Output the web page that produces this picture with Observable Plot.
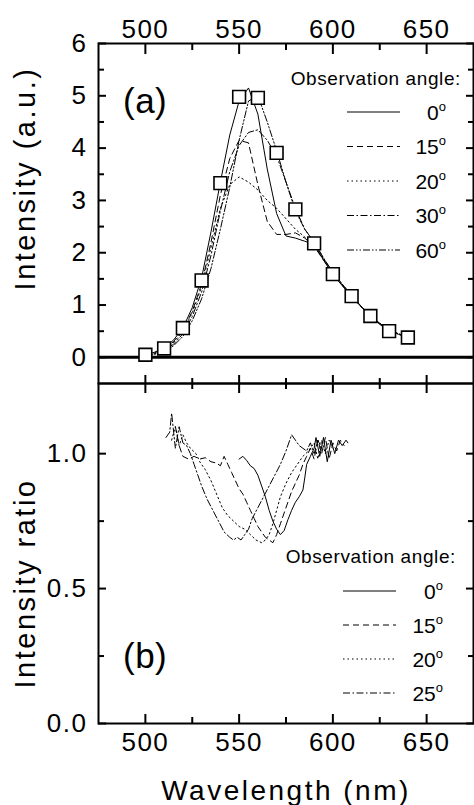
<!DOCTYPE html>
<html>
<head>
<meta charset="utf-8">
<script src="https://cdn.jsdelivr.net/npm/d3@7"></script>
<script src="https://cdn.jsdelivr.net/npm/@observablehq/plot@0.6"></script>
<style>
  html, body { margin: 0; padding: 0; background: #fff; }
  #wrap { position: relative; width: 474px; height: 805px; background: #fff; overflow: hidden;
          font-family: "Liberation Sans", Arial, Helvetica, sans-serif; }
  #wrap > svg { position: absolute; left: 0; }
</style>
</head>
<body>
<div id="wrap"></div>
<script>
// ---------------- DATA ----------------
// Panel (a): emission spectra at several observation angles
const wlTop = [500,505,510,515,520,525,530,535,540,545,550,555,560,565,570,575,580,585,590,595,600,605,610,615,620,625,630,635,640];
const int0  = [0.04,0.10,0.18,0.33,0.56,0.95,1.52,2.40,3.35,4.25,4.90,5.15,4.65,3.60,2.75,2.32,2.28,2.22,2.16,1.86,1.58,1.37,1.16,0.97,0.79,0.63,0.51,0.44,0.38];
const int15 = [0.04,0.09,0.16,0.30,0.52,0.88,1.40,2.20,3.10,3.80,4.15,4.10,3.30,2.60,2.35,2.35,2.38,2.28,2.12,1.86,1.60,1.38,1.17,0.97,0.80,0.64,0.52,0.44,0.38];
const int20 = [0.03,0.08,0.15,0.28,0.50,0.85,1.35,2.10,2.85,3.30,3.45,3.35,3.20,3.00,2.85,2.65,2.45,2.30,2.15,1.88,1.60,1.38,1.17,0.97,0.80,0.65,0.52,0.45,0.39];
const int30 = [0.03,0.07,0.13,0.25,0.45,0.78,1.25,1.95,2.80,3.55,4.05,4.30,4.35,4.15,3.85,3.35,2.85,2.45,2.20,1.90,1.62,1.40,1.18,0.98,0.80,0.65,0.52,0.45,0.39];
const int60 = [0.02,0.06,0.11,0.22,0.40,0.70,1.12,1.70,2.45,3.25,4.15,4.90,5.00,4.50,3.95,3.35,2.80,2.45,2.20,1.90,1.62,1.40,1.18,0.98,0.80,0.65,0.52,0.45,0.39];
const topAngles = ["0", "15", "20", "30", "60"];

// Square markers in panel (a)
const sqWl  = [500,510,520,530,540,550,560,570,580,590,600,610,620,630,640];
const sqVal = [0.05,0.17,0.56,1.47,3.33,4.98,4.96,3.91,2.83,2.18,1.59,1.17,0.79,0.50,0.38];

// Panel (b): intensity ratio
const wlR0 = [550,552,554,556,558,560,562,564,566,568,570,572,574,576,578,580,582,584,585,586,588,590,591,593,595,597,599,601,603,605,607,608];
const ratio0 = [0.98,0.99,0.975,0.955,0.945,0.92,0.88,0.84,0.79,0.75,0.72,0.70,0.715,0.755,0.79,0.82,0.84,0.865,0.91,0.96,0.99,1.02,1.06,0.99,1.06,0.97,1.05,1.0,1.05,1.03,1.05,1.04];
const wlR15 = [516,518,520,523,526,529,532,535,538,540,542,544,546,548,550,552,554,556,558,560,562,564,566,568,570,572,574,576,578,580,582,584,586,588,590,592,594,596,598,600,602,604,606];
const ratio15 = [1.10,1.03,0.99,0.98,0.99,0.98,0.985,0.97,0.965,0.955,0.99,0.96,0.93,0.90,0.87,0.85,0.82,0.79,0.76,0.73,0.71,0.69,0.68,0.67,0.70,0.74,0.78,0.82,0.86,0.89,0.92,0.96,0.99,1.02,0.98,1.05,1.0,1.06,0.98,1.04,1.01,1.05,1.03];
const wlR20 = [514,516,518,520,522,524,527,529,532,535,538,541,544,547,550,553,556,559,562,564,566,568,570,572,575,578,581,584,587,590,592,594,596,598,600];
const ratio20 = [1.05,1.10,1.03,1.07,1.04,1.02,1.0,0.97,0.94,0.90,0.85,0.80,0.77,0.75,0.73,0.72,0.70,0.68,0.67,0.68,0.70,0.74,0.79,0.84,0.89,0.93,0.96,0.99,1.01,1.04,0.98,1.05,1.0,1.05,1.02];
const wlR25 = [511,513,514,516,518,520,522,524,526,528,530,533,536,539,542,545,547,549,551,553,555,557,560,563,566,569,572,575,578,580,582,584,586,588,590,592,594];
const ratio25 = [1.06,1.08,1.15,1.02,1.10,1.04,1.03,1.0,0.96,0.92,0.88,0.83,0.79,0.75,0.71,0.69,0.68,0.69,0.68,0.70,0.72,0.76,0.80,0.84,0.88,0.92,0.96,1.01,1.07,1.05,1.03,1.02,1.01,1.04,1.0,1.05,1.02];
const botAngles = ["0", "15", "20", "25"];

// Ticks
const xMajor = [500, 550, 600, 650];
const xMinor = [525, 575, 625];
const yTopMajor = [0, 1, 2, 3, 4, 5, 6];
const yTopMinor = [0.5, 1.5, 2.5, 3.5, 4.5, 5.5];
const yBotMajor = [0, 0.5, 1.0];
const yBotMinor = [0.25, 0.75];

// ---------------- STYLES ----------------
const FONT = '"Liberation Sans", Arial, Helvetica, sans-serif';
const dashFor = {"0": null, "15": "6,4", "20": "1.5,3", "30": "7,2.5,1.5,2.5", "60": "7,2,1.5,2,1.5,2", "25": "7,2.5,1.5,2.5"};

const topRows = [int0, int15, int20, int30, int60].map((vals, k) =>
  vals.map((v, i) => ({wl: wlTop[i], v, angle: topAngles[k]})));
const squares = sqWl.map((wl, i) => ({wl, v: sqVal[i]}));
const botRows = [[wlR0, ratio0], [wlR15, ratio15], [wlR20, ratio20], [wlR25, ratio25]].map(([w, r], k) =>
  w.map((wl, i) => ({wl, v: r[i], angle: botAngles[k]})));

const blank = () => "";
const wrap = document.getElementById("wrap");
const svgStyle = {fontFamily: FONT, fontSize: "26px", letterSpacing: "1.5px", color: "black", background: "transparent", overflow: "visible"};

// ---------------- PANEL (a) ----------------
const topPlot = Plot.plot({
  width: 474, height: 395,
  marginTop: 43, marginBottom: 12, marginLeft: 98, marginRight: 1,
  x: {domain: [475, 675]},
  y: {domain: [-0.5, 6]},
  style: svgStyle,
  marks: [
    Plot.ruleY([0], {stroke: "black", strokeWidth: 3}),
    ...topRows.map(rows => Plot.line(rows, {x: "wl", y: "v", stroke: "black", strokeWidth: 1,
      strokeDasharray: dashFor[rows[0].angle]})),
    Plot.dot(squares, {x: "wl", y: "v", symbol: "square", r: 7.2, fill: "white", stroke: "black", strokeWidth: 1.6}),
    Plot.frame({stroke: "black", strokeWidth: 2}),
    Plot.axisX(xMajor, {anchor: "top", tickSize: -10, tickPadding: 16, strokeWidth: 2, label: null, tickFormat: d => String(d)}),
    Plot.axisX(xMinor, {anchor: "top", tickSize: -6, strokeWidth: 2, label: null, tickFormat: blank}),
    Plot.axisX(xMajor, {anchor: "bottom", tickSize: -8, strokeWidth: 2, label: null, tickFormat: blank}),
    Plot.axisX(xMinor, {anchor: "bottom", tickSize: -5, strokeWidth: 2, label: null, tickFormat: blank}),
    Plot.axisY(yTopMajor, {anchor: "left", tickSize: -8, tickPadding: 19, strokeWidth: 2, label: null, tickFormat: d => String(d)}),
    Plot.axisY(yTopMinor, {anchor: "left", tickSize: -6, strokeWidth: 2, label: null, tickFormat: blank}),
    Plot.axisY(yTopMajor, {anchor: "right", tickSize: -8, strokeWidth: 2, label: null, tickFormat: blank}),
    Plot.axisY(yTopMinor, {anchor: "right", tickSize: -6, strokeWidth: 2, label: null, tickFormat: blank}),
    Plot.text(["Intensity (a.u.)"], {frameAnchor: "left", dx: -73, dy: -35, rotate: -90,
      textAnchor: "middle", lineAnchor: "middle", fontSize: 29}),
    Plot.text(["(a)"], {frameAnchor: "top-left", dx: 24.5, dy: 69, textAnchor: "start", lineAnchor: "bottom", fontSize: 35})
  ]
});
topPlot.style.top = "0px";
wrap.appendChild(topPlot);

// ---------------- PANEL (b) ----------------
const botPlot = Plot.plot({
  width: 474, height: 434,
  marginTop: 12, marginBottom: 82, marginLeft: 98, marginRight: 1,
  x: {domain: [475, 675]},
  y: {domain: [0, 1.26]},
  style: svgStyle,
  marks: [
    ...botRows.map(rows => Plot.line(rows, {x: "wl", y: "v", stroke: "black", strokeWidth: 1,
      strokeDasharray: dashFor[rows[0].angle]})),
    Plot.frame({stroke: "black", strokeWidth: 2}),
    Plot.axisX(xMajor, {anchor: "bottom", tickSize: -9, tickPadding: 18, strokeWidth: 2, label: null, tickFormat: d => String(d)}),
    Plot.axisX(xMinor, {anchor: "bottom", tickSize: -6, strokeWidth: 2, label: null, tickFormat: blank}),
    Plot.axisX(xMajor, {anchor: "top", tickSize: -9, strokeWidth: 2, label: null, tickFormat: blank}),
    Plot.axisX(xMinor, {anchor: "top", tickSize: -5, strokeWidth: 2, label: null, tickFormat: blank}),
    Plot.axisY(yBotMajor, {anchor: "left", tickSize: -8, tickPadding: 19, strokeWidth: 2, label: null, tickFormat: d3.format(".1f")}),
    Plot.axisY(yBotMinor, {anchor: "left", tickSize: -6, strokeWidth: 2, label: null, tickFormat: blank}),
    Plot.axisY(yBotMajor, {anchor: "right", tickSize: -8, strokeWidth: 2, label: null, tickFormat: blank}),
    Plot.axisY(yBotMinor, {anchor: "right", tickSize: -6, strokeWidth: 2, label: null, tickFormat: blank}),
    Plot.text(["Intensity ratio"], {frameAnchor: "left", dx: -73, dy: 30, rotate: -90,
      textAnchor: "middle", lineAnchor: "middle", fontSize: 29}),
    Plot.text(["(b)"], {frameAnchor: "top-left", dx: 24.5, dy: 284, textAnchor: "start", lineAnchor: "bottom", fontSize: 35}),
    Plot.text(["Wavelength (nm)"], {frameAnchor: "bottom", dy: 76, textAnchor: "middle", lineAnchor: "bottom", fontSize: 28})
  ]
});
botPlot.style.top = "371px";
wrap.appendChild(botPlot);

// wider tracking for the axis titles, as in the reference
d3.select(wrap).selectAll("text")
  .filter(function() { return ["Intensity (a.u.)", "Intensity ratio", "Wavelength (nm)"].includes(this.textContent); })
  .attr("letter-spacing", "2.5px");
d3.select(wrap).selectAll("text")
  .filter(function() { return ["(a)", "(b)"].includes(this.textContent); })
  .attr("letter-spacing", "0.5px");

// ---------------- LEGENDS (overlay) ----------------
const leg = d3.select(wrap).append("svg")
  .attr("width", 474).attr("height", 805)
  .style("top", "0px")
  .style("font-family", FONT);

function drawLegend(angles, title, titleX, titleY, rowY0, rowStep, lineX1, lineX2, labelX) {
  leg.append("text").attr("x", titleX).attr("y", titleY).attr("text-anchor", "end")
    .attr("font-size", 19).attr("letter-spacing", "0.6px").text(title);
  angles.forEach((a, i) => {
    const y = rowY0 + i * rowStep;
    leg.append("line").attr("x1", lineX1).attr("x2", lineX2).attr("y1", y).attr("y2", y)
      .attr("stroke", "black").attr("stroke-width", 1)
      .attr("stroke-dasharray", dashFor[a]);
    const t = leg.append("text").attr("x", labelX).attr("y", y + 7.5).attr("text-anchor", "end").attr("font-size", 21);
    t.append("tspan").text(a);
    t.append("tspan").attr("dy", -9).attr("font-size", 13).text("o");
  });
}
drawLegend(topAngles, "Observation angle:", 461, 85, 112, 34.5, 347, 400, 446);
drawLegend(botAngles, "Observation angle:", 456, 563, 591, 34, 343, 396, 443);
</script>
</body>
</html>
